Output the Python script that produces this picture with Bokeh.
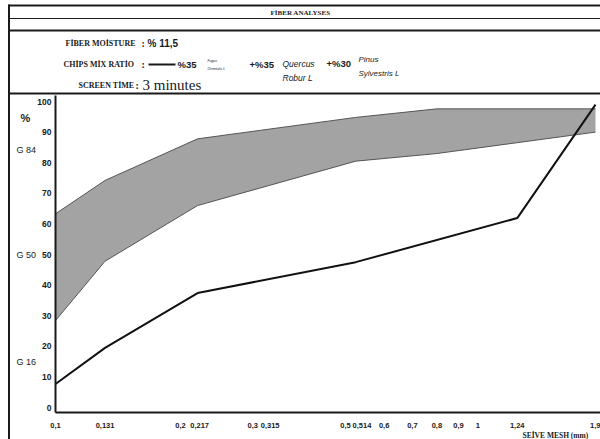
import math
from bokeh.plotting import figure
from bokeh.models import (Range1d, LogScale, LogAxis, LinearAxis, FixedTicker,
                          CustomJSTickFormatter, Label)
from bokeh.embed import file_html
from bokeh.resources import INLINE

# ---- data ----
mesh_ticks = [0.1, 0.131, 0.2, 0.217, 0.3, 0.315, 0.5, 0.514, 0.6, 0.7, 0.8, 0.9, 1, 1.24, 1.9]
mesh_labels = ["0,1", "0,131", "0,2", "0,217", "0,3", "0,315", "0,5", "0,514",
               "0,6", "0,7", "0,8", "0,9", "1", "1,24", "1,9"]
pct_ticks = [0, 10, 20, 30, 40, 50, 60, 70, 80, 90, 100]

line_mesh = [0.1, 0.131, 0.217, 0.514, 1.24, 1.9]
line_pct = [7.7, 19.5, 37.4, 47.5, 61.9, 99.0]

band_mesh = [0.1, 0.131, 0.217, 0.514, 0.8, 1.9]
band_upper = [63.3, 74.2, 87.8, 94.8, 97.6, 97.6]
band_lower = [28.4, 47.8, 66.0, 80.5, 83.0, 90.0]

g_labels = ["G 84", "G 50", "G 16"]
g_values = [84, 50, 15]

# ---- layout constants (sheet coordinates, px) ----
W, H = 600, 439
SX0, SX1 = 0, 600          # sheet x span shown
SY0, SY1 = 0, 439          # sheet y span shown (top, bottom)
AX_X = 55                  # y-axis line position
AX_Y = 412                 # x-axis line position
X_LO_PX, X_HI_PX = 55, 595  # where mesh 0.1 and 1.9 sit
Y0_PX, Y100_PX = 407, 101   # where 0 % and 100 % sit

INK = "#1a1a1a"
SERIF = "Liberation Serif"
SANS = "Liberation Sans"

dec = (X_HI_PX - X_LO_PX) / math.log10(mesh_ticks[-1] / mesh_ticks[0])
mesh_start = mesh_ticks[0] * 10 ** (-(X_LO_PX - SX0) / dec)
mesh_end = mesh_ticks[-1] * 10 ** ((SX1 - X_HI_PX) / dec)
upp = (Y0_PX - Y100_PX) / 100.0
pct_start = -(SY1 - Y0_PX) / upp
pct_end = 100 + (Y100_PX - SY0) / upp


def pct_at(px):
    return (Y0_PX - px) / upp


p = figure(width=W, height=H, x_range=Range1d(SX0, SX1), y_range=Range1d(SY1, SY0),
           x_axis_type=None, y_axis_type=None, min_border=0,
           output_backend="svg", toolbar_location=None)
p.grid.visible = False
p.outline_line_color = None
p.extra_x_ranges = {"mesh": Range1d(mesh_start, mesh_end)}
p.extra_x_scales = {"mesh": LogScale()}
p.extra_y_ranges = {"pct": Range1d(pct_start, pct_end)}

# ---- sheet rules ----
p.segment(x0=[8] * 4, y0=[5, 18, 30, 93], x1=[SX1] * 4, y1=[5, 18, 30, 93],
          line_color=INK, line_width=[2, 1.2, 2, 2])
p.segment(x0=[8.5], y0=[4], x1=[8.5], y1=[SY1], line_color=INK, line_width=2)
p.segment(x0=[148], y0=[64], x1=[175], y1=[64], line_color=INK, line_width=2)


def txt(x, y, t, size, font=SANS, style="bold", align="left", color=INK):
    p.add_layout(Label(x=x, y=y, text=t, text_font=font, text_font_size=f"{size}px",
                       text_font_style=style, text_align=align, text_baseline="middle",
                       text_color=color))


txt(300, 12, "FİBER ANALYSES", 7, SERIF, align="center")
txt(65, 43, "FİBER MOİSTURE", 8, SERIF)
txt(141, 43, ":", 10, SERIF)
txt(147, 43, "% 11,5", 10, SANS)
txt(63, 64, "CHİPS MİX RATİO", 8, SERIF)
txt(141, 64, ":", 10, SERIF)
txt(177, 64, "%35", 9.5, SANS)
txt(207, 60, "Fagus", 3.5, SANS, "italic")
txt(207, 68, "Orientalis L", 3.5, SANS, "italic")
txt(249, 64, "+%35", 9.5, SANS)
txt(282, 63, "Quercus", 8.5, SANS, "italic")
txt(282, 77, "Robur L", 8.5, SANS, "italic")
txt(326, 63, "+%30", 9.5, SANS)
txt(358, 59, "Pinus", 8, SANS, "italic")
txt(358, 73, "Sylvestris L", 8, SANS, "italic")
txt(78, 85, "SCREEN TİME", 8, SERIF)
txt(135, 85, ":", 10, SERIF)
txt(142, 84, "3 minutes", 15, SERIF, "normal")

txt(25, 117, "%", 11, SANS, align="center")
for lab, v in zip(g_labels, g_values):
    p.add_layout(Label(x=16, y=v, y_range_name="pct", text=lab, text_font=SANS,
                       text_font_size="9px", text_font_style="normal", text_align="left",
                       text_baseline="middle", text_color=INK))
txt(522, 435, "SEİVE MESH (mm)", 7.5, SERIF)

# ---- data marks ----
p.varea(x=band_mesh, y1=band_lower, y2=band_upper, fill_color="#a3a3a3",
        x_range_name="mesh", y_range_name="pct")
p.line(band_mesh, band_upper, line_color="#555555", line_width=1,
       x_range_name="mesh", y_range_name="pct")
p.line(band_mesh, band_lower, line_color="#555555", line_width=1,
       x_range_name="mesh", y_range_name="pct")
p.line(line_mesh, line_pct, line_color="#111111", line_width=2,
       x_range_name="mesh", y_range_name="pct")

# ---- axes ----
NB = "\u00a0"
shift = {"0,2": -2, "0,217": 2, "0,3": -4, "0,315": 4, "0,5": -5, "0,514": 6}
shown = [(NB * s + lab) if s > 0 else (lab + NB * (-s)) if s < 0 else lab
         for lab, s in ((l, shift.get(l, 0)) for l in mesh_labels)]

xax = LogAxis(x_range_name="mesh", fixed_location=AX_Y,
              ticker=FixedTicker(ticks=mesh_ticks),
              formatter=CustomJSTickFormatter(args=dict(tv=mesh_ticks, tl=shown),
                                              code="const i = tv.indexOf(tick); return i >= 0 ? tl[i] : String(tick);"),
              bounds=(mesh_ticks[0], mesh_end))
yax = LinearAxis(y_range_name="pct", fixed_location=AX_X,
                 ticker=FixedTicker(ticks=pct_ticks),
                 bounds=(pct_at(AX_Y), pct_at(95)))
for ax in (xax, yax):
    ax.axis_line_color = INK
    ax.axis_line_width = 2
    ax.major_tick_line_color = None
    ax.minor_tick_line_color = None
    ax.major_tick_out = 0
    ax.major_tick_in = 0
    ax.minor_tick_out = 0
    ax.minor_tick_in = 0
    ax.major_label_text_font = SANS
    ax.major_label_text_font_style = "bold"
    ax.major_label_text_color = INK
xax.major_label_text_font_size = "7.5px"
xax.major_label_standoff = 8
yax.major_label_text_font_size = "8.5px"
yax.major_label_standoff = 4
p.add_layout(xax, "below")
p.add_layout(yax, "left")

open("out.html", "w").write(file_html(p, INLINE))
